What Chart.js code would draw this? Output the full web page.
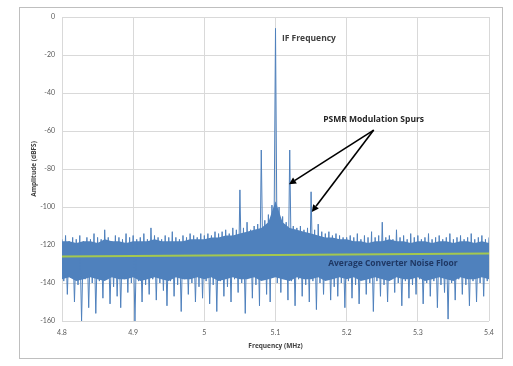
<!DOCTYPE html>
<html>
<head>
<meta charset="utf-8">
<title>PSMR spectrum</title>
<script src="https://cdn.jsdelivr.net/npm/chart.js@4.4.0/dist/chart.umd.min.js"></script>
<style>
  body { margin: 0; background: #fff; }
  canvas { display: block; }
</style>
</head>
<body>
<canvas id="spectrum" width="513" height="366"></canvas>
<script>
// FFT bins are 2.5 kHz apart from 4.8 MHz; the trace alternates peak / trough bins
var binStartMHz = 4.8;
var binStepMHz = 0.0025;

// peak bins (4.800, 4.805, ... 5.400 MHz), dBFS
var peakDb = [
  -117,-115,-118,-116,-117,-115,-118,-116,-117,-114,
  -116,-117,-112,-116,-118,-115,-116,-117,-114,-116,
  -115,-117,-116,-114,-117,-111,-115,-116,-117,-115,
  -116,-113,-116,-117,-115,-116,-114,-115,-116,-114,
  -115,-114,-115,-113,-114,-113,-112,-114,-111,-112,
  -91,-111,-108,-112,-110,-109,-70,-107,-104,-99,
  -6,-100,-105,-108,-70,-110,-111,-110,-112,-111,
  -92,-112,-109,-113,-114,-113,-115,-114,-115,-116,
  -116,-115,-116,-114,-117,-115,-116,-113,-116,-115,
  -108,-116,-115,-117,-112,-116,-115,-117,-114,-116,
  -115,-117,-116,-114,-117,-116,-115,-117,-116,-114,
  -117,-116,-115,-117,-116,-114,-117,-116,-115,-117,
  -116
];

// trough bins (4.8025, 4.8075, ... 5.3975 MHz), dBFS
var troughDb = [
  -139,-146,-137,-150,-141,-160,-138,-153,-140,-156,
  -139,-148,-137,-151,-142,-147,-153,-138,-145,-140,
  -160,-139,-150,-141,-146,-138,-149,-140,-144,-152,
  -139,-147,-141,-155,-138,-146,-140,-150,-142,-148,
  -139,-151,-141,-155,-139,-147,-142,-150,-138,-145,
  -140,-156,-137,-148,-141,-152,-138,-146,-150,-136,
  -140,-145,-137,-149,-139,-152,-138,-147,-141,-150,
  -139,-154,-140,-146,-138,-149,-142,-147,-140,-153,
  -139,-148,-141,-151,-138,-146,-140,-155,-139,-147,
  -141,-150,-138,-145,-140,-152,-139,-148,-141,-146,
  -138,-151,-140,-147,-139,-153,-141,-145,-159,-140,
  -149,-138,-146,-141,-152,-139,-150,-140,-147,-139
];

// solid part of the noise band, read every 10 kHz (4.80 ... 5.40 MHz)
var bandStepMHz = 0.01;
var bandTopDb = [
  -118,-118,-119,-118,-118,-119,-117,-118,-118,-119,
  -118,-118,-118,-117,-118,-118,-118,-118,-117,-117,
  -117,-116,-116,-115,-115,-114,-113,-112,-111,-108,
  -97,-108,-111,-112,-113,-114,-115,-116,-116,-117,
  -117,-118,-118,-119,-118,-118,-117,-118,-118,-119,
  -118,-118,-119,-118,-118,-119,-118,-118,-119,-118,
  -119
];
var bandBottomDb = [
  -138,-137,-139,-138,-137,-138,-139,-137,-138,-138,
  -137,-139,-138,-137,-138,-139,-137,-138,-138,-137,
  -138,-137,-139,-138,-137,-138,-138,-137,-139,-138,
  -137,-138,-139,-137,-138,-138,-137,-139,-138,-137,
  -138,-137,-139,-138,-137,-138,-139,-137,-138,-138,
  -137,-139,-138,-137,-138,-139,-137,-138,-138,-137,
  -138
];

var floorFreq = [4.8, 5.4];
var floorDb = [-126, -124.5];

var xMin = 4.8, xMax = 5.4, xStep = 0.1;
var yMin = -160, yMax = 0, yStep = 20;

var notes = [
  { text: 'IF Frequency', x: 5.109, y: -11.5, color: '#404040' },
  { text: 'PSMR Modulation Spurs', x: 5.167, y: -54, color: '#262626' },
  { text: 'Average Converter Noise Floor', x: 5.174, y: -130, color: '#1f3864' }
];
var arrows = [
  { from: [5.238, -59.5], to: [5.119, -88] },
  { from: [5.238, -59.5], to: [5.151, -102.6] }
];

var trace = [];
for (var i = 0; i < peakDb.length; i++) {
  trace.push({ x: +(binStartMHz + 2 * i * binStepMHz).toFixed(4), y: peakDb[i] });
  if (i < troughDb.length) {
    trace.push({ x: +(binStartMHz + (2 * i + 1) * binStepMHz).toFixed(4), y: troughDb[i] });
  }
}
var bandTop = bandTopDb.map(function (v, k) { return { x: +(binStartMHz + k * bandStepMHz).toFixed(3), y: v }; });
var bandBottom = bandBottomDb.map(function (v, k) { return { x: +(binStartMHz + k * bandStepMHz).toFixed(3), y: v }; });
var floorLine = floorFreq.map(function (f, k) { return { x: f, y: floorDb[k] }; });

var framePlugin = {
  id: 'frame',
  beforeDraw: function (chart) {
    var c = chart.ctx;
    c.save();
    c.fillStyle = '#fff';
    c.fillRect(0, 0, chart.width, chart.height);
    c.strokeStyle = '#bfbfbf';
    c.lineWidth = 1;
    c.strokeRect(19.5, 7.5, 483, 351);
    c.restore();
  }
};

var notesPlugin = {
  id: 'notes',
  afterDatasetsDraw: function (chart) {
    var c = chart.ctx, sx = chart.scales.x, sy = chart.scales.y;
    c.save();
    c.font = 'bold 8.5px "Open Sans"';
    c.textBaseline = 'middle';
    c.textAlign = 'left';
    notes.forEach(function (n) {
      c.fillStyle = n.color;
      c.fillText(n.text, sx.getPixelForValue(n.x), sy.getPixelForValue(n.y));
    });
    c.strokeStyle = '#000';
    c.fillStyle = '#000';
    c.lineWidth = 1.6;
    arrows.forEach(function (a) {
      var x0 = sx.getPixelForValue(a.from[0]), y0 = sy.getPixelForValue(a.from[1]);
      var x1 = sx.getPixelForValue(a.to[0]), y1 = sy.getPixelForValue(a.to[1]);
      var ang = Math.atan2(y1 - y0, x1 - x0);
      var hl = 7, hw = 3.5;
      var bx = x1 - hl * Math.cos(ang), by = y1 - hl * Math.sin(ang);
      c.beginPath();
      c.moveTo(x0, y0);
      c.lineTo(bx, by);
      c.stroke();
      c.beginPath();
      c.moveTo(x1, y1);
      c.lineTo(bx + hw * Math.sin(ang), by - hw * Math.cos(ang));
      c.lineTo(bx - hw * Math.sin(ang), by + hw * Math.cos(ang));
      c.closePath();
      c.fill();
    });
    c.restore();
  }
};

var blue = '#4f81bd';

var chart = new Chart(document.getElementById('spectrum'), {
  type: 'line',
  data: {
    datasets: [
      {
        label: 'Noise floor',
        data: floorLine,
        borderColor: '#a4c84f',
        borderWidth: 2,
        pointRadius: 0
      },
      {
        label: 'Spectrum',
        data: trace,
        borderColor: blue,
        borderWidth: 1,
        pointRadius: 0,
        tension: 0
      },
      {
        label: 'Band top',
        data: bandTop,
        borderColor: blue,
        borderWidth: 0,
        backgroundColor: blue,
        pointRadius: 0,
        fill: '+1'
      },
      {
        label: 'Band bottom',
        data: bandBottom,
        borderColor: blue,
        borderWidth: 0,
        pointRadius: 0,
        fill: false
      }
    ]
  },
  options: {
    responsive: false,
    animation: false,
    events: [],
    layout: { padding: { top: 17, right: 24, bottom: 0, left: 0 } },
    plugins: { legend: { display: false }, tooltip: { enabled: false } },
    scales: {
      x: {
        type: 'linear',
        min: xMin, max: xMax,
        afterFit: function (s) { s.height = 45; },
        grid: { color: '#d9d9d9', drawTicks: false },
        border: { display: false },
        ticks: {
          stepSize: xStep,
          padding: 8,
          color: '#595959',
          font: { family: 'Lato', size: 7 },
          maxRotation: 0,
          callback: function (v) { return String(Math.round(v * 10) / 10); }
        },
        title: {
          display: true, text: 'Frequency (MHz)', color: '#404040',
          font: { family: 'Open Sans', size: 6.5, weight: 'bold' },
          padding: { top: 0, bottom: 16 }
        }
      },
      y: {
        min: yMin, max: yMax,
        afterFit: function (s) { s.width = 62; },
        grid: { color: '#d9d9d9', drawTicks: false },
        border: { display: false },
        ticks: {
          stepSize: yStep,
          padding: 7,
          color: '#595959',
          font: { family: 'Lato', size: 7 }
        },
        title: {
          display: true, text: 'Amplitude (dBFS)', color: '#404040',
          font: { family: 'Open Sans', size: 6.5, weight: 'bold' },
          padding: { top: 30, bottom: 0 }
        }
      }
    }
  },
  plugins: [framePlugin, notesPlugin]
});
</script>
</body>
</html>
